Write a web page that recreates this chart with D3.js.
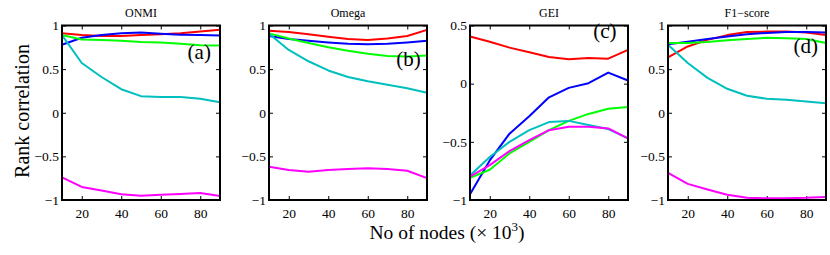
<!DOCTYPE html>
<html>
<head>
<meta charset="utf-8">
<script src="https://cdn.jsdelivr.net/npm/d3@7"></script>
<style>
  body { margin: 0; background: #fff; }
</style>
</head>
<body>
<svg id="chart" width="830" height="255"></svg>
<script>
// MARK: data

const nodes = [10, 20, 30, 40, 50, 60, 70, 80, 90]

const panelTitles = ['ONMI', 'Omega', 'GEI', 'F1\u2212score']
const panelTags   = ['(a)', '(b)', '(c)', '(d)']
const seriesNames = ['red', 'blue', 'green', 'cyan', 'magenta']

const onmi = [
  [0.91, 0.89, 0.88, 0.88, 0.89, 0.90, 0.91, 0.93, 0.95],
  [0.78, 0.86, 0.89, 0.91, 0.92, 0.905, 0.895, 0.89, 0.885],
  [0.89, 0.84, 0.835, 0.825, 0.81, 0.805, 0.79, 0.775, 0.77],
  [0.89, 0.57, 0.41, 0.27, 0.19, 0.18, 0.18, 0.16, 0.12],
  [-0.74, -0.85, -0.89, -0.935, -0.95, -0.94, -0.93, -0.92, -0.955],
]
const omega = [
  [0.94, 0.925, 0.90, 0.87, 0.845, 0.835, 0.85, 0.88, 0.95],
  [0.88, 0.845, 0.825, 0.805, 0.79, 0.785, 0.79, 0.805, 0.825],
  [0.91, 0.85, 0.80, 0.75, 0.71, 0.675, 0.65, 0.645, 0.655],
  [0.905, 0.72, 0.59, 0.485, 0.41, 0.36, 0.32, 0.28, 0.23],
  [-0.62, -0.655, -0.675, -0.655, -0.645, -0.635, -0.645, -0.665, -0.75],
]
const gei = [
  [0.405, 0.36, 0.31, 0.27, 0.23, 0.21, 0.22, 0.215, 0.29],
  [-0.95, -0.66, -0.43, -0.28, -0.117, -0.036, 0.004, 0.095, 0.027],
  [-0.81, -0.74, -0.60, -0.50, -0.40, -0.32, -0.26, -0.215, -0.20],
  [-0.79, -0.63, -0.50, -0.40, -0.33, -0.32, -0.355, -0.39, -0.47],
  [-0.80, -0.70, -0.58, -0.485, -0.40, -0.37, -0.37, -0.385, -0.47],
]
const f1score = [
  [0.635, 0.76, 0.835, 0.89, 0.925, 0.93, 0.93, 0.92, 0.89],
  [0.785, 0.815, 0.845, 0.875, 0.90, 0.915, 0.925, 0.925, 0.92],
  [0.80, 0.80, 0.81, 0.83, 0.845, 0.86, 0.855, 0.845, 0.80],
  [0.78, 0.57, 0.40, 0.275, 0.195, 0.16, 0.15, 0.13, 0.11],
  [-0.69, -0.815, -0.88, -0.94, -0.975, -0.98, -0.98, -0.975, -0.965],
]

const xTicks   = [20, 40, 60, 80]
const yTicks   = [-1, -0.5, 0, 0.5, 1]
const yTicksC  = [-1, -0.5, 0, 0.5]
const yDomains = [[-1, 1], [-1, 1], [-1, 0.5], [-1, 1]]

// MARK: layout

const FONT    = "'Liberation Serif', 'Times New Roman', serif"
const COLORS  = { red: '#ff0000', blue: '#0000ff', green: '#00ff00', cyan: '#00bfbf', magenta: '#ff00ff' }
const LEFTS   = [62, 269, 470, 668]
const WIDTH   = 158
const TOP     = 25.5
const BOTTOM  = 200
const TICK    = 4
const tagPos  = [[0.795, 0.616], [0.805, 0.536], [0.78, 0.393], [0.795, 0.685]] // (panel fraction, y data)

const svg = d3.select('#chart').attr('font-family', FONT)
const fmt = (v) => (v < 0 ? '\u2212' : '') + String(Math.abs(v))

const panels = [onmi, omega, gei, f1score]

panels.forEach((series, i) => {
  const x = d3.scaleLinear().domain([10, 90]).range([LEFTS[i], LEFTS[i] + WIDTH])
  const y = d3.scaleLinear().domain(yDomains[i]).range([BOTTOM, TOP])
  const ticksY = i === 2 ? yTicksC : yTicks
  const g = svg.append('g').attr('class', 'panel')

  // tick marks point inward on all four sides, like the matlab box
  g.append('g')
    .attr('transform', `translate(0,${BOTTOM})`)
    .call(d3.axisBottom(x).tickValues(xTicks).tickSizeInner(-TICK).tickSizeOuter(0).tickPadding(8))
  g.append('g')
    .attr('transform', `translate(0,${TOP})`)
    .call(d3.axisTop(x).tickValues(xTicks).tickSizeInner(-TICK).tickSizeOuter(0).tickFormat(''))
  g.append('g')
    .attr('transform', `translate(${LEFTS[i]},0)`)
    .call(d3.axisLeft(y).tickValues(ticksY).tickSizeInner(-TICK).tickSizeOuter(0).tickPadding(3).tickFormat(fmt))
  g.append('g')
    .attr('transform', `translate(${LEFTS[i] + WIDTH},0)`)
    .call(d3.axisRight(y).tickValues(ticksY).tickSizeInner(-TICK).tickSizeOuter(0).tickFormat(''))
  g.selectAll('.domain').remove()
  g.selectAll('g').attr('font-family', FONT).attr('font-size', 13.5)
  g.selectAll('.tick line').attr('stroke', '#000').attr('stroke-width', 1)

  const line = d3.line().x((d, k) => x(nodes[k])).y((d) => y(d))
  g.selectAll('path.series')
    .data(series)
    .enter().append('path')
      .attr('class', 'series')
      .attr('d', line)
      .attr('fill', 'none')
      .attr('stroke', (d, k) => COLORS[seriesNames[k]])
      .attr('stroke-width', 2)
      .attr('stroke-linejoin', 'round')

  g.append('rect')
    .attr('x', LEFTS[i]).attr('y', TOP)
    .attr('width', WIDTH).attr('height', BOTTOM - TOP)
    .attr('fill', 'none').attr('stroke', '#000').attr('stroke-width', 2)

  g.append('text')
    .attr('x', LEFTS[i] + WIDTH / 2).attr('y', 17)
    .attr('text-anchor', 'middle').attr('font-size', 12)
    .text(panelTitles[i])

  g.append('text')
    .attr('x', LEFTS[i] + WIDTH * tagPos[i][0]).attr('y', y(tagPos[i][1]))
    .attr('font-size', 21)
    .text(panelTags[i])
})

svg.append('text')
  .attr('transform', 'translate(29,111) rotate(-90)')
  .attr('text-anchor', 'middle').attr('font-size', 20)
  .text('Rank correlation')

const xl = svg.append('text')
  .attr('x', 447).attr('y', 239)
  .attr('text-anchor', 'middle').attr('font-size', 19.5)
xl.append('tspan').text('No of nodes (\u00d7 10')
xl.append('tspan').attr('font-size', 13).attr('dy', -8).text('3')
xl.append('tspan').attr('dy', 8).text(')')
</script>
</body>
</html>
